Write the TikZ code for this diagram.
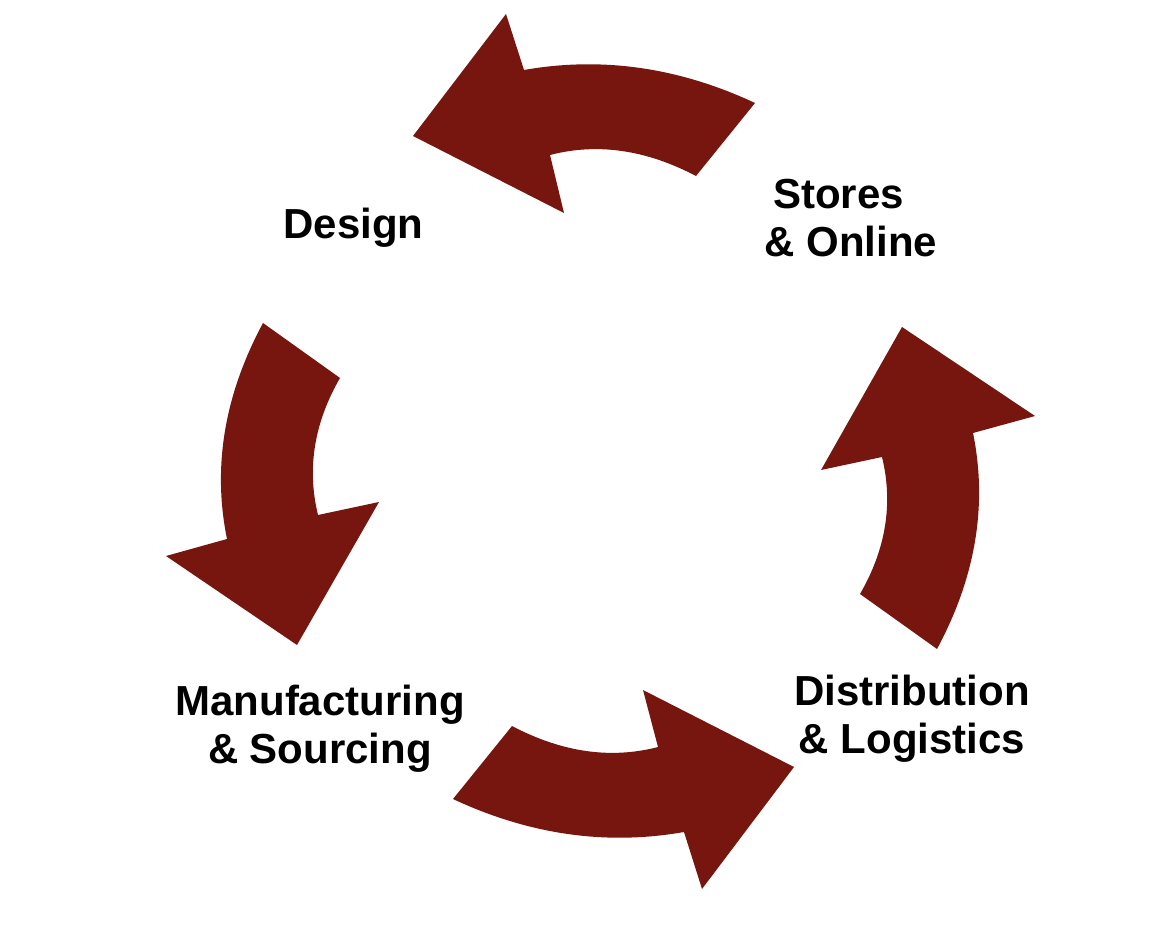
\documentclass[tikz,border=0pt]{standalone}
\usepackage{fontspec}
\setmainfont{Liberation Sans}
\usepackage{xcolor}
\usepackage{tikz}
\definecolor{cyclered}{HTML}{76160F}

\begin{document}
\begin{tikzpicture}[
  x=0.5pt,y=-0.5pt,
  bendarrow/.style={fill=cyclered,draw=none},
  phase/.style={inner sep=0pt,align=center,font=\fontsize{21}{24}\selectfont\bfseries,text=black}
]
\useasboundingbox (0,0) rectangle (1170,940);
% curved arrows
\fill[bendarrow] (755,103) .. controls (678.7,67.3) and (601.7,56.3) .. (524,70) -- (506,14) -- (413,136) -- (564,213)
  -- (550,155) .. controls (597.3,142.7) and (646,149.7) .. (696,176) -- cycle;
\fill[bendarrow] (263,323) .. controls (224.3,395) and (212.3,467) .. (227,539) -- (166,556) -- (297,645) -- (379,502)
  -- (318,515) .. controls (306.7,468.7) and (314,423) .. (340,378) -- cycle;
\fill[bendarrow] (453,799) .. controls (529.3,834.7) and (606.3,845.7) .. (684,832) -- (702,889) -- (794,767) -- (643,690)
  -- (658,747) .. controls (610.7,759.3) and (562,752.3) .. (512,726) -- cycle;
\fill[bendarrow] (937,649) .. controls (975.7,577) and (987.7,505) .. (973,433) -- (1035,416) -- (902,327) -- (821,470)
  -- (882,457) .. controls (893.3,503.3) and (886,549) .. (860,594) -- cycle;
% labels
\node[phase,anchor=base] (design) at (353.5,239) {Design};
\node[phase,anchor=base] (stores) at (851,257) {Stores\hspace*{0.6em}\\\& Online};
\node[phase,anchor=base] (manuf) at (320,763) {Manufacturing\\\& Sourcing};
\node[phase,anchor=base] (distrib) at (912,753) {Distribution\\\& Logistics};
\end{tikzpicture}
\end{document}
